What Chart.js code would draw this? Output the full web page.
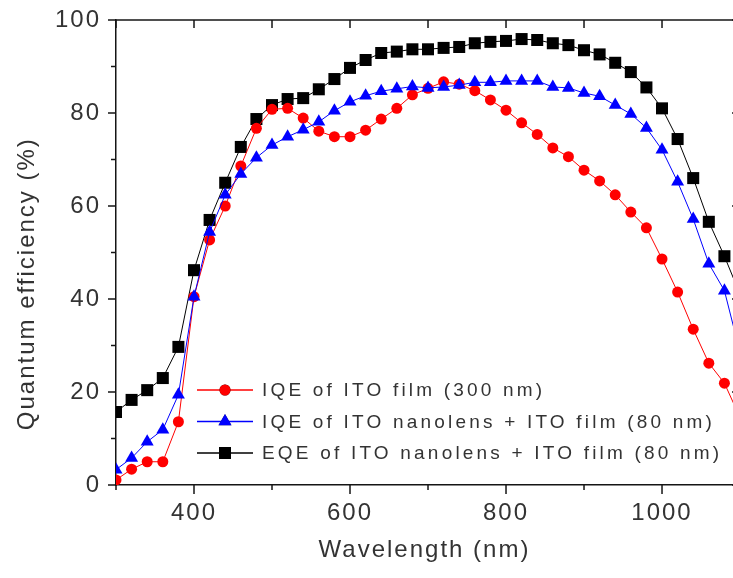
<!DOCTYPE html>
<html>
<head>
<meta charset="utf-8">
<script src="https://cdn.jsdelivr.net/npm/chart.js@4/dist/chart.umd.min.js"></script>
<style>
  html, body { margin: 0; padding: 0; background: #fff; overflow: hidden; }
</style>
</head>
<body>
<canvas id="qe" width="733" height="578"></canvas>
<script>
// ===========================
// Data
// ===========================

const wavelengths = [
  300, 320, 340, 360, 380, 400, 420, 440, 460, 480,
  500, 520, 540, 560, 580, 600, 620, 640, 660, 680,
  700, 720, 740, 760, 780, 800, 820, 840, 860, 880,
  900, 920, 940, 960, 980, 1000, 1020, 1040, 1060, 1080, 1100
];

const iqeFilm = [
  1.1, 3.4, 5.0, 5.0, 13.6, 40.5, 52.7, 60.0, 68.6, 76.7,
  80.8, 81.0, 78.9, 76.1, 74.9, 74.9, 76.3, 78.7, 81.0, 83.9,
  85.3, 86.7, 86.2, 84.8, 82.8, 80.6, 77.9, 75.4, 72.5, 70.6,
  67.7, 65.4, 62.4, 58.7, 55.3, 48.6, 41.5, 33.5, 26.2, 21.9, 14.5
];

const iqeNanolens = [
  3.3, 5.8, 9.3, 11.9, 19.4, 40.5, 54.4, 62.4, 66.9, 70.4,
  73.1, 74.9, 76.4, 78.1, 80.5, 82.4, 83.7, 84.7, 85.2, 85.7,
  85.4, 85.6, 86.0, 86.6, 86.6, 86.9, 86.9, 86.9, 85.6, 85.4,
  84.3, 83.6, 81.7, 79.8, 76.8, 72.1, 65.2, 57.2, 47.6, 41.8, 28.5
];

const eqeNanolens = [
  15.7, 18.3, 20.4, 23.0, 29.7, 46.2, 57.0, 65.0, 72.7, 78.7,
  81.7, 83.0, 83.2, 85.1, 87.3, 89.7, 91.4, 92.9, 93.2, 93.7,
  93.7, 94.0, 94.2, 95.0, 95.3, 95.5, 95.9, 95.7, 95.0, 94.6,
  93.5, 92.6, 90.8, 88.8, 85.5, 81.0, 74.4, 66.0, 56.6, 49.2, 41.0
];

const seriesLabels = [
  "IQE of ITO film (300 nm)",
  "IQE of ITO nanolens + ITO film (80 nm)",
  "EQE of ITO nanolens + ITO film (80 nm)"
];

const xTicks = [400, 600, 800, 1000];
const xMinorTicks = [300, 500, 700, 900, 1100];
const yTicks = [0, 20, 40, 60, 80, 100];
const yMinorTicks = [10, 30, 50, 70, 90];

// the original figure is cropped just short of 1100 nm
const xMin = 300;
const xMax = 1091;
const xFrameEnd = 1100;

const FONT = "'Liberation Sans', Arial, sans-serif";
const TEXT = "#333333";
const AXIS = "#151515";

function toPoints(values) {
  return wavelengths.map((w, i) => ({ x: w, y: values[i] }));
}

function noPadding(scale) {
  scale.paddingTop = 0;
  scale.paddingBottom = 0;
  scale.paddingLeft = 0;
  scale.paddingRight = 0;
}

// ===========================
// Plugins
// ===========================

// spaced-out lettering like the original figure
const spacing = {
  id: "spacing",
  beforeDraw(chart) {
    chart.ctx.letterSpacing = "2px";
  },
};

// top/right frame + tick marks (major/minor)
const frameTicks = {
  id: "frameTicks",
  afterDraw(chart) {
    const { ctx, chartArea: a, scales } = chart;
    const x = scales.x;
    const y = scales.y;
    const xr = x.getPixelForValue(xFrameEnd);
    ctx.save();
    ctx.strokeStyle = AXIS;
    ctx.lineWidth = 1.5;

    const seg = (x1, y1, x2, y2) => {
      ctx.beginPath();
      ctx.moveTo(x1, y1);
      ctx.lineTo(x2, y2);
      ctx.stroke();
    };

    seg(a.left, a.top, xr, a.top);
    seg(xr, a.top, xr, a.bottom);

    xTicks.forEach((v) => {
      const px = x.getPixelForValue(v);
      seg(px, a.bottom, px, a.bottom + 9);
      seg(px, a.top, px, a.top + 8);
    });
    xMinorTicks.forEach((v) => {
      const px = x.getPixelForValue(v);
      seg(px, a.bottom, px, a.bottom + 5);
      seg(px, a.top, px, a.top + 8);
    });
    yTicks.forEach((v) => {
      const py = y.getPixelForValue(v);
      seg(a.left - 8, py, a.left, py);
      seg(xr - 8, py, xr, py);
    });
    yMinorTicks.forEach((v) => {
      const py = y.getPixelForValue(v);
      seg(a.left - 5, py, a.left, py);
      seg(xr - 5, py, xr, py);
    });

    // y axis title (sits a bit below centre in the original)
    ctx.fillStyle = TEXT;
    ctx.font = "24px " + FONT;
    ctx.letterSpacing = "2px";
    ctx.textAlign = "center";
    ctx.textBaseline = "middle";
    ctx.translate(27, a.top + (a.bottom - a.top) * 0.567);
    ctx.rotate(-Math.PI / 2);
    ctx.fillText("Quantum efficiency (%)", 0, 0);
    ctx.restore();
  },
};

// legend inside the plot area
const insideLegend = {
  id: "insideLegend",
  afterDatasetsDraw(chart) {
    const { ctx, chartArea: a } = chart;
    ctx.save();
    ctx.font = "19px " + FONT;
    ctx.letterSpacing = "3.2px";
    ctx.textAlign = "left";
    ctx.textBaseline = "middle";
    chart.data.datasets.forEach((ds, i) => {
      const yy = a.top + 370 + i * 31.5;
      const x0 = a.left + 81;
      ctx.strokeStyle = ds.borderColor;
      ctx.lineWidth = 1.5;
      ctx.beginPath();
      ctx.moveTo(x0, yy);
      ctx.lineTo(x0 + 56, yy);
      ctx.stroke();
      Chart.helpers.drawPoint(ctx, {
        pointStyle: ds.pointStyle,
        radius: ds.pointRadius,
        borderWidth: 0,
        rotation: 0,
      }, x0 + 28, yy);
      ctx.fillStyle = ds.backgroundColor;
      ctx.fill();
      ctx.fillStyle = TEXT;
      ctx.fillText(ds.label, x0 + 65, yy + 1);
    });
    ctx.restore();
  },
};

// ===========================
// Chart
// ===========================

const ctx = document.getElementById("qe").getContext("2d");

new Chart(ctx, {
  type: "line",
  data: {
    datasets: [
      {
        label: seriesLabels[0],
        data: toPoints(iqeFilm),
        borderColor: "#ff0000",
        backgroundColor: "#ff0000",
        pointStyle: "circle",
        pointRadius: 5.5,
        order: 1,
      },
      {
        label: seriesLabels[1],
        data: toPoints(iqeNanolens),
        borderColor: "#0000ff",
        backgroundColor: "#0000ff",
        pointStyle: "triangle",
        pointRadius: 7.5,
        order: 0,
      },
      {
        label: seriesLabels[2],
        data: toPoints(eqeNanolens),
        borderColor: "#000000",
        backgroundColor: "#000000",
        pointStyle: "rect",
        pointRadius: 8.5,
        order: 2,
      },
    ],
  },
  options: {
    responsive: false,
    animation: false,
    events: [],
    layout: {
      autoPadding: false,
      padding: { top: 20, right: 0, left: 0, bottom: 0 },
    },
    elements: {
      line: { borderWidth: 1, tension: 0 },
      point: { borderWidth: 0, hoverRadius: 0 },
    },
    plugins: {
      legend: { display: false },
      tooltip: { enabled: false },
    },
    scales: {
      x: {
        type: "linear",
        min: xMin,
        max: xMax,
        afterBuildTicks: (scale) => {
          scale.ticks = xTicks.map((v) => ({ value: v }));
        },
        afterFit: (scale) => {
          scale.height = 93;
          noPadding(scale);
        },
        grid: { drawOnChartArea: false, drawTicks: false },
        border: { color: AXIS, width: 1.5 },
        ticks: {
          padding: 14,
          color: TEXT,
          font: { family: FONT, size: 24 },
          maxRotation: 0,
          callback: (v) => String(v),
        },
        title: {
          display: true,
          text: "Wavelength (nm)",
          color: TEXT,
          font: { family: FONT, size: 24 },
          padding: { top: 0, bottom: 13 },
        },
      },
      y: {
        min: 0,
        max: 100,
        afterBuildTicks: (scale) => {
          scale.ticks = yTicks.map((v) => ({ value: v }));
        },
        afterFit: (scale) => {
          scale.width = 116;
          noPadding(scale);
        },
        grid: { drawOnChartArea: false, drawTicks: false },
        border: { color: AXIS, width: 1.5 },
        ticks: {
          padding: 15,
          color: TEXT,
          font: { family: FONT, size: 24 },
          callback: (v) => String(v),
        },
      },
    },
  },
  plugins: [spacing, frameTicks, insideLegend],
});
</script>
</body>
</html>
